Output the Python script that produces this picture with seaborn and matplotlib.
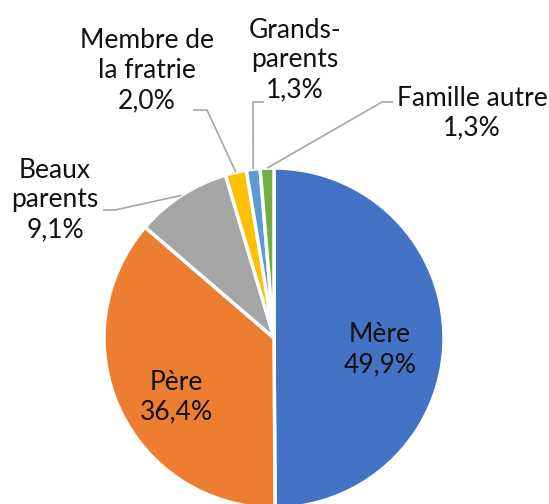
import numpy as np
import matplotlib
matplotlib.use("Agg")
import matplotlib.pyplot as plt
import seaborn as sns

# data
categories = ["Mère", "Père", "Beaux\nparents", "Membre de\nla fratrie", "Grands-\nparents", "Famille autre"]
shares = [49.9, 36.4, 9.1, 2.0, 1.3, 1.3]
colors = ["#4472C4", "#ED7D31", "#A5A5A5", "#FFC000", "#5B9BD5", "#70AD47"]

sns.set_theme(style="white")
plt.rcParams["font.family"] = ["Lato", "DejaVu Sans"]

W, H = 549, 504
fig = plt.figure(figsize=(W / 100, H / 100), dpi=100)
ax = fig.add_axes([0, 0, 1, 1])

cx, cy, r = 274, H - 338, 170
wedges, _ = ax.pie(shares, colors=sns.color_palette(colors), startangle=90, counterclock=False,
                   center=(cx, cy), radius=r, frame=True,
                   wedgeprops=dict(edgecolor="white", linewidth=2.5))
ax.set_xlim(0, W)
ax.set_ylim(0, H)
ax.set_aspect("equal")
ax.axis("off")

def pct(v):
    return f"{v:.1f}%".replace(".", ",")

fs = 19
txt_color = "#111111"
# inside labels
ax.text(380, H - 350, f"{categories[0]}\n{pct(shares[0])}", ha="center", va="center",
        fontsize=fs, color=txt_color, linespacing=1.25)
ax.text(176, H - 397, f"{categories[1]}\n{pct(shares[1])}", ha="center", va="center",
        fontsize=fs, color=txt_color, linespacing=1.25)

# outside labels: text centre, elbow, line end (pixel coords from top)
outside = {
    2: ((55, 200), (115, 210), (103, 210)),
    3: ((147, 71), (207, 110), (193, 110)),
    4: ((295, 60), (253, 102), (264, 102)),
    5: ((472, 113), (382, 102), (393, 102)),
}
for i, (txt, elbow, end) in outside.items():
    w = wedges[i]
    mid = np.deg2rad((w.theta1 + w.theta2) / 2)
    ex, ey = cx + r * np.cos(mid), cy + r * np.sin(mid)
    ax.plot([ex, elbow[0], end[0]], [ey, H - elbow[1], H - end[1]],
            color="#A6A6A6", lw=1.2, solid_capstyle="butt")
    ax.text(txt[0], H - txt[1], f"{categories[i]}\n{pct(shares[i])}", ha="center", va="center",
            fontsize=fs, color=txt_color, linespacing=1.25)

fig.savefig("out.png", dpi=100)
